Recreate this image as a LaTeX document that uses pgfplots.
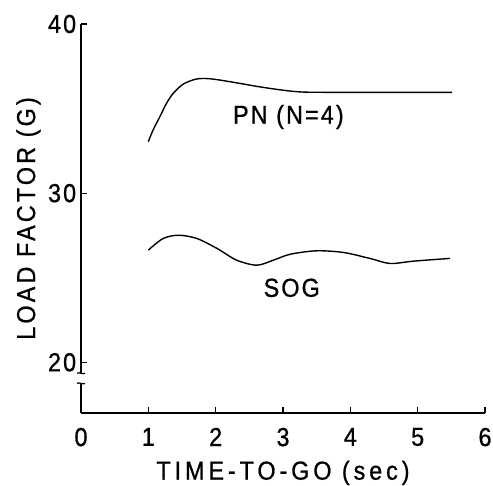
\documentclass[border=0pt]{standalone}
\usepackage{pgfplots}
\pgfplotsset{compat=1.18}
\usepackage{fontspec}
\setmainfont[LetterSpace=8, FakeStretch=0.9, FakeBold=0.8]{Liberation Sans}
\newfontfamily\xlfont[LetterSpace=15, FakeStretch=0.9, FakeBold=0.8]{Liberation Sans}
\newfontfamily\ylfont[LetterSpace=12, FakeStretch=0.9, FakeBold=0.8]{Liberation Sans}
\begin{document}
\fontsize{26}{30}\selectfont
\begin{tikzpicture}
\begin{axis}[
    name=main,
    scale only axis,
    width=404pt, height=389pt,
    xmin=0, xmax=6, ymin=17, ymax=40,
    axis lines=left,
    axis line style={line width=1.4pt, -},
    xtick={0,1,...,6}, ytick={20,30,40},
    tick align=inside,
    major tick length=6pt,
    tick style={line width=1.2pt, black},
    /pgf/number format/assume math mode=true,
    tick label style={font=\fontsize{26}{30}\selectfont},
    xticklabel style={yshift=-6pt},
    yticklabel style={xshift=4pt},
    xlabel={\xlfont TIME-TO-GO (sec)},
    ylabel={\ylfont LOAD FACTOR (G)},
    xlabel style={yshift=3pt},
    ylabel style={yshift=-10pt},
    clip=false,
]
% PN (N=4)
\addplot[black, line width=1.4pt, smooth, tension=0.5] coordinates {
(1.00,33.04) (1.07,33.73) (1.17,34.51) (1.27,35.31) (1.37,35.90) (1.52,36.45)
(1.72,36.75) (1.92,36.76) (2.21,36.59) (2.71,36.25) (3.20,36.00) (3.70,35.96) (5.51,35.96)};
% SOG
\addplot[black, line width=1.4pt, smooth, tension=0.5] coordinates {
(1.00,26.63) (1.22,27.32) (1.45,27.51) (1.72,27.32) (2.02,26.73) (2.31,26.04)
(2.61,25.74) (2.86,26.04) (3.11,26.39) (3.50,26.59) (3.90,26.49) (4.29,26.14)
(4.59,25.84) (4.94,25.98) (5.48,26.14)};
\node at (axis cs:3.08,34.5) {PN (N=4)};
\node at (axis cs:3.13,24.4) {SOG};
% axis break
\fill[white] (axis cs:-0.05,18.75) rectangle (axis cs:0.05,19.35);
\draw[line width=1.2pt] (axis cs:-0.06,19.35) .. controls (axis cs:-0.02,19.45) and (axis cs:0.02,19.25) .. (axis cs:0.06,19.35);
\draw[line width=1.2pt] (axis cs:-0.06,18.75) .. controls (axis cs:-0.02,18.85) and (axis cs:0.02,18.65) .. (axis cs:0.06,18.75);
\end{axis}
\pgfresetboundingbox
\useasboundingbox (main.south west) ++(-81pt,-72pt) rectangle ++(493pt,485pt);
\end{tikzpicture}
\end{document}
